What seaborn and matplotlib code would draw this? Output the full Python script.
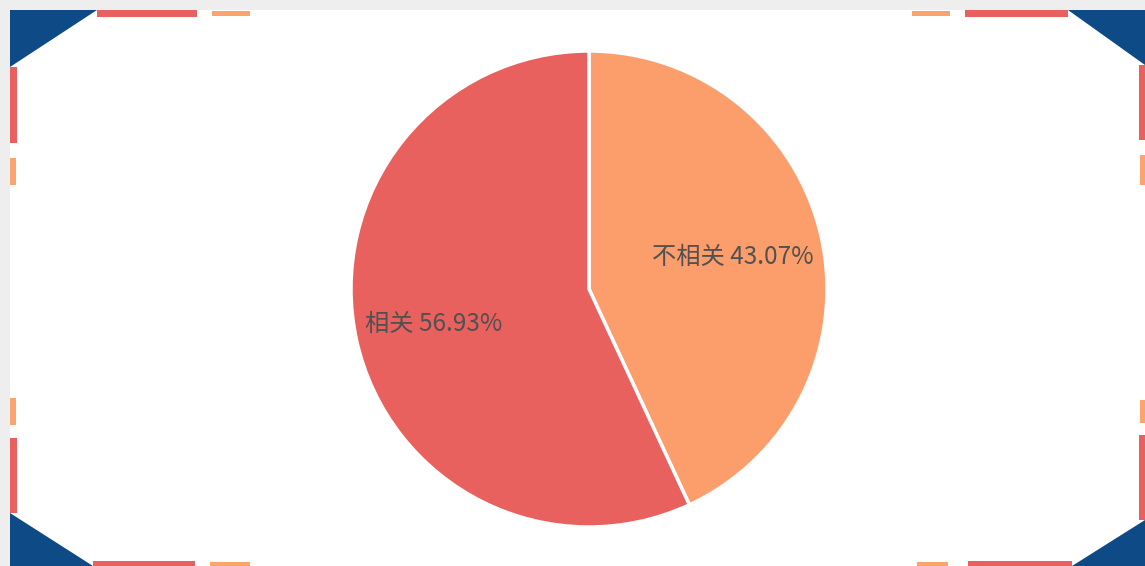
import matplotlib
matplotlib.use("Agg")
import matplotlib.pyplot as plt
from matplotlib.patches import Polygon
import seaborn as sns

# ---- data ----
categories = ["不相关", "相关"]
values = [43.07, 56.93]
colors = ["#FB9E6B", "#E9615E"]
label_radius = [0.62, 0.67]

sns.set_theme(style="white")
plt.rcParams["font.family"] = ["Noto Sans CJK SC", "DejaVu Sans"]

W, H = 1145, 566
fig = plt.figure(figsize=(W / 100, H / 100), dpi=100)
fig.patch.set_facecolor("#eeeeee")


def P(pts):
    return [(x / W, 1 - y / H) for x, y in pts]


def poly(pts, color):
    fig.add_artist(Polygon(P(pts), closed=True, transform=fig.transFigure,
                           facecolor=color, edgecolor="none", zorder=0))


def rect(x0, y0, x1, y1, color):
    poly([(x0, y0), (x1, y0), (x1, y1), (x0, y1)], color)


# card background
rect(10, 10, 1145, 566, "white")

BLUE, RED, ORA = "#0E4A86", "#E9615E", "#FBA46E"
# top-left
poly([(10, 10), (97, 10), (10, 67)], BLUE)
rect(97, 10, 197, 17, RED)
rect(212, 11, 250, 16, ORA)
rect(10, 67, 17, 143, RED)
rect(10, 158, 16, 185, ORA)
# top-right
poly([(1068, 10), (1145, 10), (1145, 65)], BLUE)
rect(965, 10, 1068, 17, RED)
rect(912, 11, 950, 16, ORA)
rect(1139, 65, 1145, 140, RED)
rect(1140, 155, 1145, 185, ORA)
# bottom-left
poly([(10, 513), (10, 566), (93, 566)], BLUE)
rect(93, 561, 195, 566, RED)
rect(210, 562, 250, 566, ORA)
rect(10, 438, 17, 513, RED)
rect(10, 398, 16, 425, ORA)
# bottom-right
poly([(1072, 566), (1145, 566), (1145, 520)], BLUE)
rect(968, 561, 1072, 566, RED)
rect(917, 562, 948, 566, ORA)
rect(1139, 435, 1145, 520, RED)
rect(1140, 400, 1145, 423, ORA)

# pie axes
cx, cy, r = 589, 289, 238
ax = fig.add_axes([(cx - r) / W, (H - cy - r) / H, 2 * r / W, 2 * r / H])
ax.set_facecolor("none")
labels = [f"{c} {v:.2f}%" for c, v in zip(categories, values)]
wedges, texts = ax.pie(values, labels=labels, colors=colors, startangle=90,
                       counterclock=False, labeldistance=1.0,
                       wedgeprops=dict(edgecolor="white", linewidth=2.5),
                       textprops=dict(fontsize=17.5, color="#525050"))
for t, lr in zip(texts, label_radius):
    x, y = t.get_position()
    t.set_position((x * lr, y * lr))
    t.set_horizontalalignment("center")
    t.set_verticalalignment("center")
ax.set_xlim(-1, 1)
ax.set_ylim(-1, 1)
ax.set_aspect("equal")
ax.axis("off")

fig.savefig("out.png", dpi=100, facecolor=fig.get_facecolor())
